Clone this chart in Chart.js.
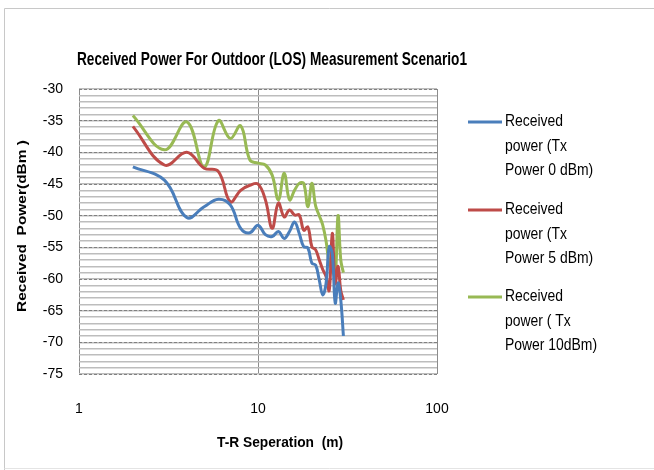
<!DOCTYPE html>
<html>
<head>
<meta charset="utf-8">
<script src="https://cdn.jsdelivr.net/npm/chart.js@4/dist/chart.umd.min.js"></script>
<style>
  html, body { margin: 0; padding: 0; background: #fff; }
  canvas { display: block; }
</style>
</head>
<body>
<canvas id="powerChart" width="654" height="470"></canvas>
<script>
// T-R separation in metres
const distances = [2, 3, 4, 5, 6, 7, 8, 9, 10, 11, 12, 13, 14, 15, 16, 17, 18, 19, 20,
                   21, 22, 23, 24, 25, 26, 27, 28, 29, 30];
// received power (dBm) for each transmit power
const power0dBm = [-42.3, -44.4, -50.3, -48.6, -47.4, -48.3, -52, -52.7, -51.5, -53,
                   -53.3, -52.5, -53.6, -52.5, -51, -52.8, -54.9, -55.1, -57.5,
                   -57.8, -60.2, -62.5, -60.7, -54.9, -56, -63.8, -60.6, -63.3, -69];
const power5dBm = [-35.9, -42, -40, -42.5, -43, -47.8, -46, -45.2, -45, -47.5,
                   -52, -48, -50.2, -49.1, -49.9, -49.9, -52.3, -51.8, -54.9,
                   -55.4, -57, -58.5, -59.6, -61.8, -52.8, -60.7, -58, -61.8, -63.3];
const power10dBm = [-34.2, -39.6, -35.2, -42.3, -35, -37.8, -35.8, -41.2, -41.7, -42,
                    -43.6, -47.5, -43.3, -47.5, -46, -44.9, -44.9, -48.6, -44.9,
                    -48.5, -50, -51.5, -54, -57.5, -58.5, -59.6, -50, -57, -59];

const xTicks = [1, 10, 100];
const yRange = [-75, -30];

const seriesLabels = [
  ['Received', 'power (Tx', 'Power 0 dBm)'],
  ['Received', 'power (Tx', 'Power 5 dBm)'],
  ['Received', 'power ( Tx', 'Power 10dBm)']
];
const seriesColors = ['#4a7ebb', '#be4b48', '#98b954'];

const fontFamily = "'Liberation Sans', Arial, sans-serif";

function toPoints(values) {
  return values.map((v, i) => ({ x: distances[i], y: v }));
}

// draws text squeezed/stretched horizontally to a given width (mimics a condensed face)
function fitText(ctx, text, x, y, width) {
  const w = ctx.measureText(text).width;
  ctx.save();
  ctx.translate(x, y);
  ctx.scale(width / w, 1);
  ctx.fillText(text, 0, 0);
  ctx.restore();
}

// frame, title, axis titles and the wrapped legend on the right
const decorations = {
  id: 'decorations',
  beforeDraw(chart) {
    const ctx = chart.ctx;
    ctx.save();
    ctx.strokeStyle = '#c8c8c8';
    ctx.lineWidth = 1;
    ctx.beginPath();
    ctx.moveTo(4.5, 470);
    ctx.lineTo(4.5, 8.5);
    ctx.lineTo(654, 8.5);
    ctx.stroke();
    ctx.strokeStyle = '#e4e4e4';
    ctx.beginPath();
    ctx.moveTo(4.5, 468.5);
    ctx.lineTo(654, 468.5);
    ctx.stroke();
    ctx.restore();
  },
  afterDraw(chart) {
    const ctx = chart.ctx;
    ctx.save();
    ctx.fillStyle = '#000';
    ctx.textBaseline = 'middle';

    ctx.textAlign = 'center';
    ctx.font = 'bold 19px ' + fontFamily;
    fitText(ctx, 'Received Power For Outdoor (LOS) Measurement Scenario1', 272, 60, 390);

    ctx.font = 'bold 14px ' + fontFamily;
    fitText(ctx, 'T-R Seperation  (m)', 280, 443, 126);

    ctx.save();
    ctx.translate(22, 226);
    ctx.rotate(-Math.PI / 2);
    ctx.font = 'bold 13px ' + fontFamily;
    fitText(ctx, 'Received  Power(dBm )', 0, 0, 172);
    ctx.restore();

    // legend
    const tops = [122, 210, 297];
    ctx.textAlign = 'left';
    ctx.font = '16px ' + fontFamily;
    chart.data.datasets.forEach((ds, i) => {
      const y = tops[i];
      ctx.strokeStyle = ds.borderColor;
      ctx.lineWidth = 3;
      ctx.beginPath();
      ctx.moveTo(468, y);
      ctx.lineTo(502, y);
      ctx.stroke();
      seriesLabels[i].forEach((line, j) => {
        const w = ctx.measureText(line).width * 0.87;
        fitText(ctx, line, 505, y + j * 24.5, w);
      });
    });
    ctx.restore();
  }
};

const ctx = document.getElementById('powerChart').getContext('2d');
const powerChart = new Chart(ctx, {
  type: 'line',
  data: {
    datasets: [power0dBm, power5dBm, power10dBm].map((values, i) => ({
      label: seriesLabels[i].join(' '),
      data: toPoints(values),
      borderColor: seriesColors[i],
      borderWidth: 3,
      pointRadius: 0,
      tension: 0.4,
      fill: false
    }))
  },
  options: {
    responsive: false,
    animation: false,
    layout: { padding: { top: 89, right: 217, left: 0, bottom: 0 } },
    plugins: {
      legend: { display: false },
      title: { display: false },
      tooltip: { enabled: false }
    },
    scales: {
      x: {
        type: 'logarithmic',
        min: xTicks[0],
        max: xTicks[xTicks.length - 1],
        afterBuildTicks: scale => { scale.ticks = xTicks.map(v => ({ value: v })); },
        afterFit: scale => { scale.height = 96; },
        ticks: {
          padding: 27,
          color: '#000',
          autoSkip: false,
          maxRotation: 0,
          font: { family: fontFamily, size: 14 },
          callback: v => String(v)
        },
        grid: { color: '#8c8c8c', drawTicks: false, lineWidth: 1 },
        border: { display: false }
      },
      yMinor: {
        position: 'left',
        min: yRange[0],
        max: yRange[1],
        afterFit: scale => { scale.width = 0; },
        ticks: { display: false, stepSize: 1 },
        grid: { color: '#bdbdbd', drawTicks: false, lineWidth: 1.5 },
        border: { display: false }
      },
      y: {
        position: 'left',
        min: yRange[0],
        max: yRange[1],
        afterFit: scale => { scale.width = 79; },
        ticks: {
          stepSize: 5,
          padding: 16,
          color: '#000',
          font: { family: fontFamily, size: 14 }
        },
        grid: { color: '#808080', drawTicks: false, lineWidth: 1 },
        border: { display: false, dash: [3, 2] }
      }
    }
  },
  plugins: [decorations]
});
</script>
</body>
</html>
